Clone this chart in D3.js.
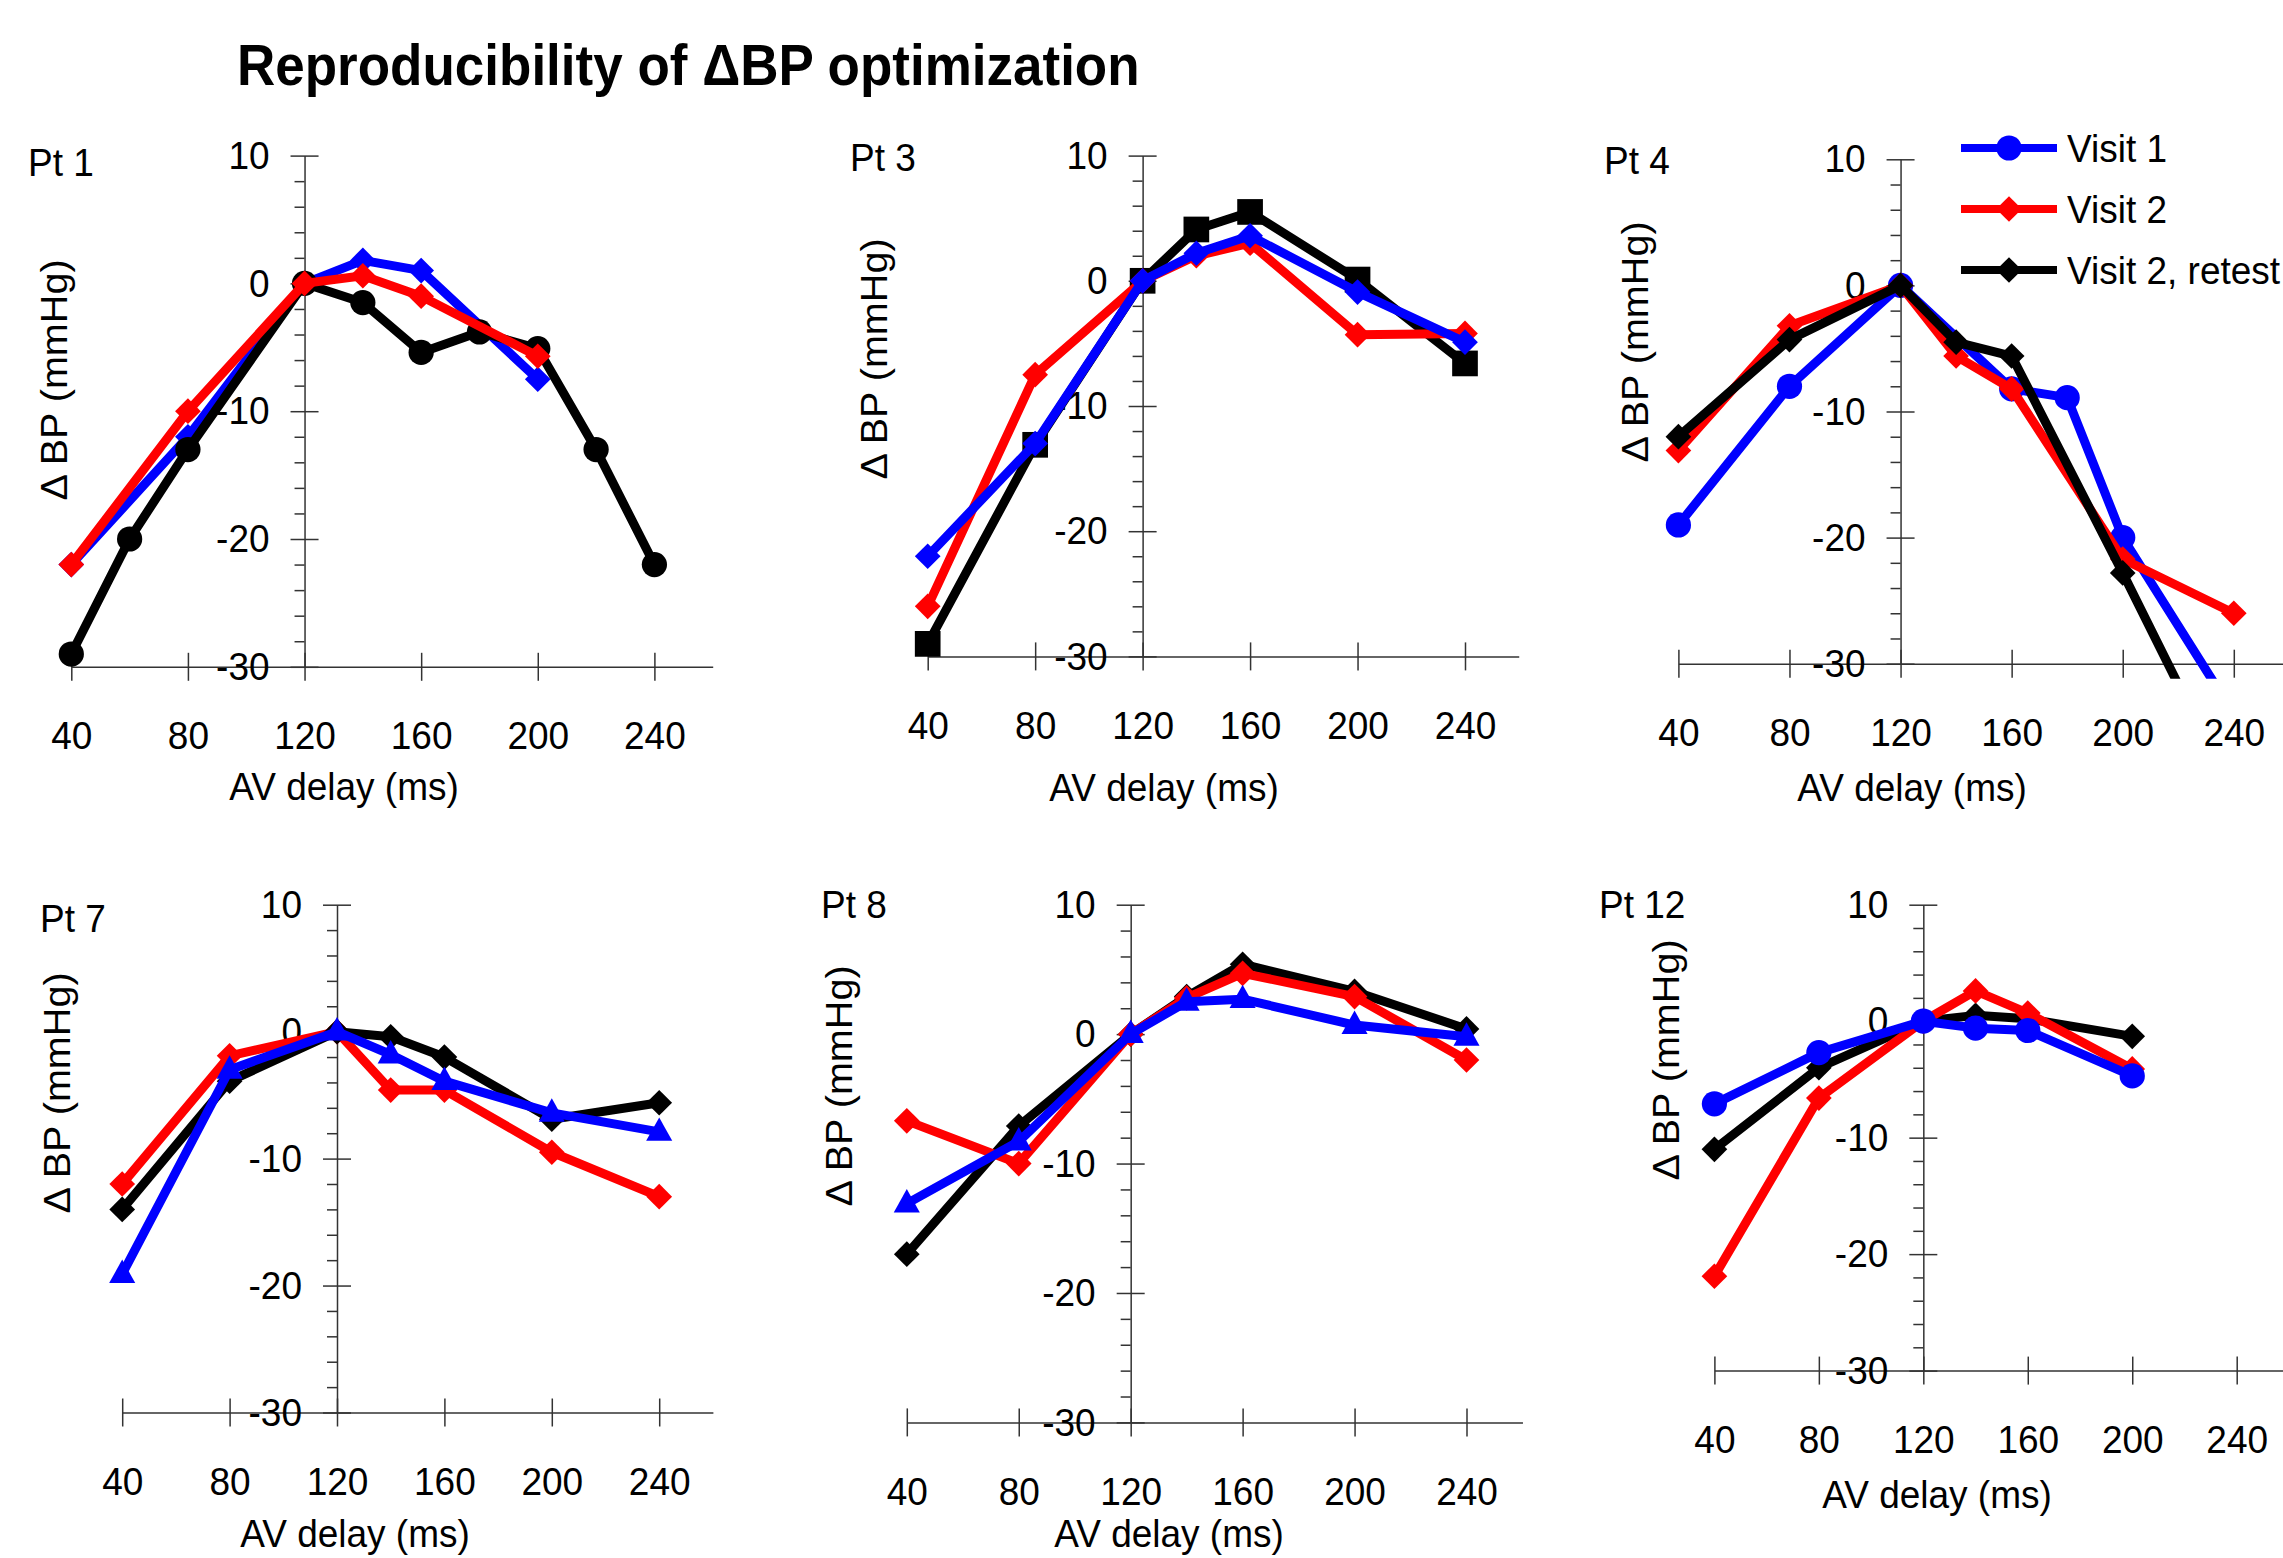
<!DOCTYPE html>
<html lang="en">
<head>
<meta charset="UTF-8" />
<title>Reproducibility of ΔBP optimization</title>
<script src="https://d3js.org/d3.v7.min.js"></script>
<style>
  body { margin: 0; background: #fff; }
  svg { display: block; background: #fff; font-family: "Liberation Sans", Arial, sans-serif; }
  .axis path, .axis line { stroke: #333; stroke-width: 1.5px; }
  .axis text { font-size: 37px; fill: #000; }
  .series { fill: none; stroke-width: 9px; stroke-linejoin: round; }
  .label { font-size: 37px; fill: #000; }
</style>
</head>
<body>
<svg id="chart" width="2283" height="1558"></svg>
<script>
// -------------------------------------------------------------------
// DATA  [AV delay (ms), delta BP (mmHg)]
// -------------------------------------------------------------------
const avDelayTicks = [40, 80, 120, 160, 200, 240];
const bpTicks = [10, 0, -10, -20, -30];
const bpMinorTicks = [8, 6, 4, 2, -2, -4, -6, -8, -12, -14, -16, -18, -22, -24, -26, -28];
const seriesNames = ["Visit 1", "Visit 2", "Visit 2, retest"];

const pt1Visit1 = [[40, -22], [80, -12], [120, 0], [140, 1.8], [160, 1], [200, -7.5]];
const pt1Visit2 = [[40, -22], [80, -10], [120, 0], [140, 0.6], [160, -1], [200, -5.7]];
const pt1Retest = [[40, -29], [60, -20], [80, -13], [120, 0], [140, -1.5], [160, -5.4], [180, -3.8], [200, -5.1], [220, -13], [240, -22]];

const pt3Visit1 = [[40, -22], [80, -13], [120, 0], [140, 2.2], [160, 3.6], [200, -0.9], [240, -4.9]];
const pt3Visit2 = [[40, -26], [80, -7.5], [120, 0], [140, 2], [160, 3], [200, -4.3], [240, -4.2]];
const pt3Retest = [[40, -29], [80, -13.1], [120, 0], [140, 4.1], [160, 5.5], [200, 0.1], [240, -6.6]];

const pt4Visit1 = [[40, -19], [80, -8], [120, 0], [160, -8.2], [180, -8.9], [200, -20], [240, -34]];
const pt4Visit2 = [[40, -13.1], [80, -3.2], [120, 0], [140, -5.6], [160, -8.2], [200, -21.7], [240, -26]];
const pt4Retest = [[40, -12], [80, -4.3], [120, 0], [140, -4.5], [160, -5.6], [200, -22.8], [240, -40.5]];

const pt7Visit1 = [[40, -19.1], [80, -3], [120, 0], [140, -1.8], [160, -3.9], [200, -6.4], [240, -7.9]];
const pt7Visit2 = [[40, -12], [80, -1.9], [120, 0], [140, -4.6], [160, -4.6], [200, -9.5], [240, -13]];
const pt7Retest = [[40, -14], [80, -3.9], [120, 0], [140, -0.4], [160, -2], [200, -6.9], [240, -5.6]];

const pt8Visit1 = [[40, -13.1], [80, -8.3], [120, 0], [140, 2.5], [160, 2.7], [200, 0.7], [240, -0.2]];
const pt8Visit2 = [[40, -6.7], [80, -10], [120, 0], [140, 2.8], [160, 4.7], [200, 2.9], [240, -2]];
const pt8Retest = [[40, -17], [80, -7.1], [120, 0], [140, 2.9], [160, 5.4], [200, 3.3], [240, 0.4]];

const pt12Visit1 = [[40, -7.1], [80, -2.7], [120, 0], [140, -0.6], [160, -0.8], [200, -4.7]];
const pt12Visit2 = [[40, -21.9], [80, -6.6], [120, 0], [140, 2.6], [160, 0.7], [200, -4.1]];
const pt12Retest = [[40, -11], [80, -4], [120, 0], [140, 0.5], [160, 0.2], [200, -1.3]];

// -------------------------------------------------------------------
// PANELS: which data, which marker shapes, drawing order
// -------------------------------------------------------------------
const panels = [
  { name: "Pt 1", series: [pt1Visit1, pt1Visit2, pt1Retest], shapes: ["diamond", "diamond", "circle"], order: [0, 2, 1],
    box: { x40: 71.3, x240: 654.4, y10: 155.6, y30: 666.8 }, label: [28, 176], yTitle: [56, 380], xTitle: [344, 800] },
  { name: "Pt 3", series: [pt3Visit1, pt3Visit2, pt3Retest], shapes: ["diamond", "diamond", "square"], order: [2, 1, 0],
    box: { x40: 927.7, x240: 1465, y10: 155.6, y30: 656.4 }, label: [850, 171], yTitle: [876, 359], xTitle: [1164, 801] },
  { name: "Pt 4", series: [pt4Visit1, pt4Visit2, pt4Retest], shapes: ["circle", "diamond", "diamond"], order: [0, 1, 2],
    box: { x40: 1678.4, x240: 2233.8, y10: 159.3, y30: 663.7 }, label: [1604, 174], yTitle: [1637, 342], xTitle: [1912, 801] },
  { name: "Pt 7", series: [pt7Visit1, pt7Visit2, pt7Retest], shapes: ["triangle", "diamond", "diamond"], order: [1, 2, 0],
    box: { x40: 122.2, x240: 659.2, y10: 904.7, y30: 1412.5 }, label: [40, 932], yTitle: [59, 1093], xTitle: [355, 1547] },
  { name: "Pt 8", series: [pt8Visit1, pt8Visit2, pt8Retest], shapes: ["triangle", "diamond", "diamond"], order: [2, 1, 0],
    box: { x40: 906.8, x240: 1466.5, y10: 904.7, y30: 1422.4 }, label: [821, 918], yTitle: [841, 1086], xTitle: [1169, 1547] },
  { name: "Pt 12", series: [pt12Visit1, pt12Visit2, pt12Retest], shapes: ["circle", "diamond", "diamond"], order: [2, 1, 0],
    box: { x40: 1714.4, x240: 2236.7, y10: 904.7, y30: 1370.6 }, label: [1599, 918], yTitle: [1668, 1060], xTitle: [1937, 1508] },
];

const colors = ["#0000ff", "#ff0000", "#000000"];
const textStretch = 1.07; // the reference lettering is slightly tall

// marker generator
const triangleShape = {
  draw(ctx, size) {
    const w = Math.sqrt(size), h = w * 0.9;
    ctx.moveTo(0, -h * 0.62);
    ctx.lineTo(w / 2, h * 0.38);
    ctx.lineTo(-w / 2, h * 0.38);
    ctx.closePath();
  }
};
function markerPath(shape) {
  if (shape === "circle") return d3.symbol(d3.symbolCircle, 500)();
  if (shape === "square") return d3.symbol(d3.symbolSquare, 660)();
  if (shape === "triangle") return d3.symbol(triangleShape, 680)();
  return d3.symbol(d3.symbolSquare, 330)(); // rotated 45deg below
}
function markerTransform(shape, px, py) {
  return shape === "diamond" ? `translate(${px},${py}) rotate(45)` : `translate(${px},${py})`;
}
function addText(parent, x, y, str, cls) {
  return parent.append("text")
    .attr("class", cls || "label")
    .attr("transform", `translate(${x},${y}) scale(1,${textStretch})`)
    .text(str);
}

const svg = d3.select("#chart");

// title
addText(svg, 237, 85, "Reproducibility of ΔBP optimization", "title")
  .attr("font-size", 53)
  .attr("font-weight", "bold");

panels.forEach((p, pi) => {
  const b = p.box;
  const x = d3.scaleLinear().domain([40, 240]).range([b.x40, b.x240]);
  const y = d3.scaleLinear().domain([10, -30]).range([b.y10, b.y30]);
  const g = svg.append("g");

  // x axis (ticks cross the line)
  const xAxisScale = x.copy().domain([40, 260]).range([x(40), x(260)]);
  const gx = g.append("g")
    .attr("class", "axis")
    .attr("transform", `translate(0,${y(-30)})`)
    .call(d3.axisBottom(xAxisScale).tickValues(avDelayTicks).tickSize(14).tickSizeOuter(0)
      .tickPadding(37).tickFormat(d => String(d)));
  gx.selectAll(".tick line").attr("y1", -14);
  gx.selectAll(".tick text").attr("transform", `scale(1,${textStretch})`);
  gx.attr("font-size", null).attr("font-family", null);

  // y axis
  const gy = g.append("g")
    .attr("class", "axis")
    .attr("transform", `translate(${x(120)},0)`)
    .call(d3.axisLeft(y).tickValues(bpTicks).tickSize(14).tickSizeOuter(0)
      .tickPadding(21).tickFormat(d => String(d)));
  gy.selectAll(".tick line").attr("x1", 14);
  gy.selectAll(".tick text").attr("transform", `scale(1,${textStretch})`);
  gy.attr("font-size", null).attr("font-family", null);

  const gyMinor = g.append("g")
    .attr("class", "axis")
    .attr("transform", `translate(${x(120)},0)`)
    .call(d3.axisLeft(y).tickValues(bpMinorTicks).tickSize(10).tickSizeOuter(0).tickFormat(""));
  gyMinor.select(".domain").remove();

  // labels
  addText(g, p.label[0], p.label[1], p.name);
  g.append("text").attr("class", "label")
    .attr("text-anchor", "middle")
    .attr("transform", `translate(${p.yTitle[0] + 11},${p.yTitle[1]}) rotate(-90) scale(${textStretch},1)`)
    .text("Δ BP (mmHg)");
  addText(g, p.xTitle[0], p.xTitle[1], "AV delay (ms)").attr("text-anchor", "middle");

  // clip lines a little below the -30 axis
  const clipId = "clip" + pi;
  svg.append("clipPath").attr("id", clipId)
    .append("rect")
    .attr("x", 0).attr("y", 0)
    .attr("width", 2283).attr("height", y(-31.2));

  const plot = g.append("g").attr("clip-path", `url(#${clipId})`);
  const line = d3.line().x(d => x(d[0])).y(d => y(d[1]));

  p.order.forEach(si => {
    const data = p.series[si];
    const shape = p.shapes[si];
    const sg = plot.append("g");
    sg.append("path")
      .datum(data)
      .attr("class", "series")
      .attr("stroke", colors[si])
      .attr("d", line);
    sg.selectAll(".pt")
      .data(data.filter(d => d[1] >= -31))
      .join("path")
      .attr("class", "pt")
      .attr("fill", colors[si])
      .attr("d", markerPath(shape))
      .attr("transform", d => markerTransform(shape, x(d[0]), y(d[1])));
  });
});

// legend (top right, inside the Pt 4 panel)
const legendShapes = ["circle", "diamond", "diamond"];
const legendRowsY = [148, 209, 270];
const legend = svg.append("g");
seriesNames.forEach((name, i) => {
  const ly = legendRowsY[i];
  legend.append("line")
    .attr("x1", 1961).attr("x2", 2057)
    .attr("y1", ly).attr("y2", ly)
    .attr("stroke", colors[i]).attr("stroke-width", 8);
  legend.append("path")
    .attr("fill", colors[i])
    .attr("d", markerPath(legendShapes[i]))
    .attr("transform", markerTransform(legendShapes[i], 2009, ly));
  addText(legend, 2067, ly + 14, name);
});
</script>
</body>
</html>
